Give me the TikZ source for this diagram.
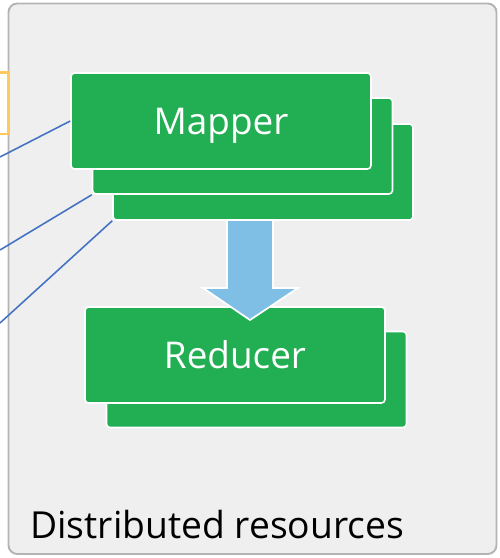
\documentclass[tikz,border=0pt]{standalone}
\usepackage{fontspec}
\setmainfont{Open Sans}
\usetikzlibrary{arrows.meta, positioning}

\definecolor{cardgreen}{RGB}{34,174,82}
\definecolor{panelgray}{RGB}{239,239,239}
\definecolor{panelline}{RGB}{180,180,180}
\definecolor{linkblue}{RGB}{68,114,196}
\definecolor{flowblue}{RGB}{127,191,230}
\definecolor{srcyellow}{RGB}{255,201,92}

\begin{document}
\begin{tikzpicture}[
  x=0.02cm, y=-0.02cm,
  every node/.style={font=\fontsize{21}{25}\selectfont},
  card/.style={draw=white, line width=0.9pt, fill=cardgreen, rounded corners=2pt,
    minimum width=6cm, minimum height=1.92cm, inner sep=0pt, text=white,
    text height=15pt, text depth=0pt},
  srcbox/.style={draw=srcyellow, line width=1.7pt, fill=white,
    minimum width=1.76cm, minimum height=1.24cm},
  link/.style={draw=linkblue, line width=0.9pt},
  flow/.style={fill=flowblue, draw=white, line width=1pt}
]
\useasboundingbox (0,0) rectangle (500,558);

% Panel
\filldraw[fill=panelgray, draw=panelline, line width=1.1pt, rounded corners=5pt]
  (8.5,3.5) rectangle (496.5,554);
\node[anchor=base west, inner sep=0pt, font=\fontsize{21.2}{25}\selectfont] (panel)
  at (30,538) {Distributed resources};

% Source box (mostly off the left edge)
\node[srcbox] (src) at (-35,103) {};

% Mapper stack
\node[card] (map3) at (263,172) {};
\node[card] (map2) at (242.5,146) {};
\node[card] (map1) at (221,121) {Mapper};

% Reducer stack
\node[card] (red2) at (256.5,379.5) {};
\node[card] (red1) at (235,355) {Reducer};

% Links coming in from the left
\coordinate (in1) at (0,157);
\coordinate (in2) at (0,250);
\coordinate (in3) at (0,323);
\draw[link] (in1) -- (map1.west);
\draw[link] (in2) -- (map2.south west);
\draw[link] (in3) -- (map3.south west);

% Block arrow from mapper to reducer
\filldraw[flow] (227,220) -- (273,220) -- (273,288) -- (298,288) -- (250,320)
  -- (203,288) -- (227,288) -- cycle;

\end{tikzpicture}
\end{document}
